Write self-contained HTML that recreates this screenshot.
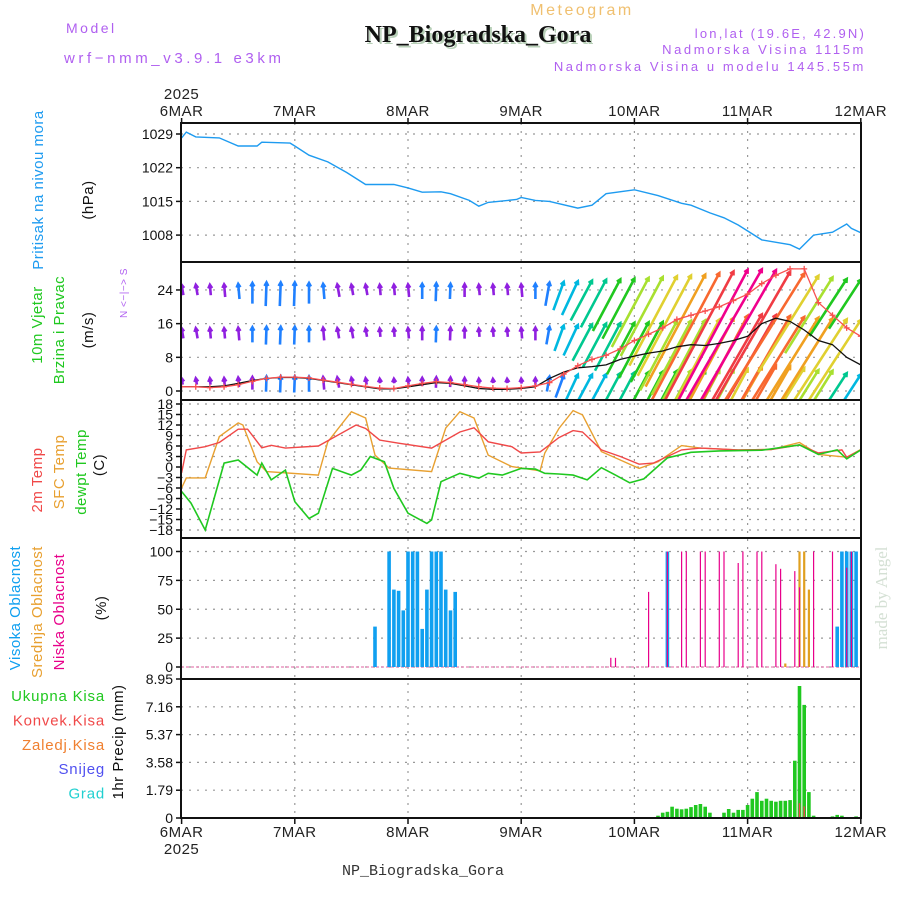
<!DOCTYPE html>
<html><head><meta charset="utf-8"><style>
html,body{margin:0;padding:0;background:#fff;}
svg{display:block;font-family:"Liberation Sans",sans-serif;}
.tk{font-size:14px;fill:#111;text-anchor:end;}
.ax{font-size:15px;fill:#222;text-anchor:middle;letter-spacing:0.5px;}
.gl{stroke:#999;stroke-width:1.2;stroke-dasharray:2,6;}
.lab{font-size:14px;letter-spacing:0.8px;}
</style></head><body>
<svg id="chart" width="900" height="900" viewBox="0 0 900 900" xmlns="http://www.w3.org/2000/svg">
<rect x="0" y="0" width="900" height="900" fill="#fff"/>
<text x="66" y="33" fill="#b060f0" style="font-size:14px;letter-spacing:2.5px">Model</text>
<text x="64" y="63" fill="#b060f0" style="font-size:15px;letter-spacing:3.6px">wrf−nmm_v3.9.1 e3km</text>
<text x="582" y="15" text-anchor="middle" fill="#f0c070" style="font-size:16px;letter-spacing:2.5px">Meteogram</text>
<text x="480" y="44" text-anchor="middle" fill="#b8d0b8" style="font-family:'Liberation Serif',serif;font-weight:bold;font-size:24px">NP_Biogradska_Gora</text>
<text x="478" y="42" text-anchor="middle" fill="#111" style="font-family:'Liberation Serif',serif;font-weight:bold;font-size:24px">NP_Biogradska_Gora</text>
<text x="866" y="38" text-anchor="end" fill="#b060f0" style="font-size:13px;letter-spacing:2.2px">lon,lat (19.6E, 42.9N)</text>
<text x="866" y="54" text-anchor="end" fill="#b060f0" style="font-size:13px;letter-spacing:2.6px">Nadmorska Visina 1115m</text>
<text x="866" y="71" text-anchor="end" fill="#b060f0" style="font-size:13px;letter-spacing:2.6px">Nadmorska Visina u modelu 1445.55m</text>
<text x="423" y="875" text-anchor="middle" fill="#333" style="font-family:'Liberation Mono',monospace;font-size:15px">NP_Biogradska_Gora</text>
<text transform="translate(887,598) rotate(-90)" text-anchor="middle" fill="#d4e0d4" style="font-family:'Liberation Serif',serif;font-size:17px">made by Angel</text>

<g id="labels"></g>
<g id="grid"></g>
<g id="marks"></g>
<g id="frames"></g>
</svg>
<script>
// ---- data ----
const dayLabels = ["6MAR","7MAR","8MAR","9MAR","10MAR","11MAR","12MAR"];
const presHours = [0,1,3,8,12,16,17,23,24,27,31,35,39,45,48,51,55,57,61,63,65,71,72,75,78,84,87,90,96,101,106,108,112,115,118,123,129,131,134,138,141,142,144];
const presVals  = [1028.2,1029.4,1028.4,1028.2,1026.5,1026.5,1027.3,1027.1,1026.5,1024.6,1023.2,1021,1018.5,1018.5,1017.8,1016.9,1017,1016.6,1015.2,1014,1014.8,1015.4,1015.8,1015.2,1015,1013.6,1014.2,1016.6,1017.4,1016.2,1014.6,1014.2,1012.6,1011.6,1010.1,1007,1006,1005.1,1008,1008.6,1010.3,1009.4,1008.5];
const presTicks = [1029,1022,1015,1008];

const windHours = [0,3,6,9,12,15,18,21,24,27,30,33,36,39,42,45,48,51,54,57,60,63,66,69,72,75,78,81,84,87,90,93,96,99,102,105,108,111,114,117,120,123,126,129,132,135,138,141,144];
const wind10 = [1,1,1,1.2,1.8,2.5,3,3.2,3.2,3,2.5,2,1.5,1,0.5,0.5,1,1.5,2,1.8,1.2,0.6,0.4,0.4,0.6,1,3,4.5,5.5,5.8,6.2,7.5,8.3,9,9.5,10.5,11,10.8,11.3,12,13,16,17.3,16.5,14.5,12,11,8,6.2];
const gust10 = [1,1,0.8,1,1.5,2.3,3,3.3,3.3,3.1,2.6,2.1,1.6,1.1,0.7,0.6,1.2,1.8,2.2,2,1.5,1,0.7,0.6,0.8,1.2,2,4,6,7.5,8.5,10,12,13.5,15,17,18,19,20,21.5,23,25.5,27.5,29,29,21,18,15,13];
const wind850 = [2,2,2,2,2.5,3,3.5,3.5,3.5,3,2.5,2,2,1.5,1.5,1.5,2,2.5,3,2.5,2,1.5,1.5,1.5,2,2.5,3.5,5,6,7,8,8.5,9,9.5,10,11,11.5,12,13,15,18,20,19,18,17,16,15,14,13];
const wind700 = [2,2,2,2.5,3,4,4.5,4.5,4.5,4,3,2.5,2,2,2,2,2.5,3,3.5,3,2.5,2,2,2,2.5,3,4.5,5.5,6.5,7.5,8.5,9,10,11,12,13,14,15,17,19,21,22,21,19,17,14,12,10,9];
const windDir = [100,100,95,95,95,90,88,88,88,90,95,100,100,100,95,95,95,90,88,88,90,95,95,95,95,90,80,70,65,62,62,62,62,62,62,62,62,62,62,62,62,60,60,60,58,58,58,57,57];
const windTicks = [24,16,8,0];

const t2Hours = [0,1,5,8,12,14,17,19,22,29,31,37,39,42,46,53,59,62,65,70,72,76,77,80,83,85,89,93,97,100,106,110,118,125,131,135,140,141,144];
const t2Vals  = [-1.7,4.9,5.8,7,10.8,10.8,5.5,6.2,5.4,6,7.5,12,11,7.7,6.8,5.4,10,11.2,7.2,5.8,4,4.3,5.3,8.4,10.4,10,4.9,3,0.8,1.1,4.9,5.4,4.9,5,6.3,4,4.9,2.8,4.9];
const tsHours = [0,1,5,8,12,13,16,18,29,31,36,39,41,44,53,56,59,62,65,70,76,77,80,83,85,89,97,101,106,110,118,125,131,135,141,144];
const tsVals  = [-6,-3.1,-3.1,8.7,12.6,12,1.5,-1.3,-2.3,7.2,15.8,14,3.4,-0.3,-1.3,11.1,15.8,14,3.4,0.1,-1.1,4,11,16.1,14.9,4.4,-0.4,1.5,6.1,5.4,4.9,5,7,3.6,2.8,5];
const tdHours = [0,2,5,9,12,16,17,19,22,24,27,29,32,36,38,40,43,45,48,52,53,55,59,63,65,68,72,75,77,80,83,86,89,92,95,98,103,108,114,123,131,135,139,141,144];
const tdVals  = [-7,-10.3,-18,1.1,2,-2.3,1.1,-3.7,-0.9,-9.9,-14.7,-13.2,-0.4,-2.3,-0.9,3,1.5,-6.1,-13.2,-16.1,-15.1,-4.2,-1.8,-3.2,-1.8,-2.3,-0.4,-0.6,-1.8,-2,-2.3,-3.7,-0.2,-2.3,-4.5,-3.4,2.6,4.2,4.6,4.8,6.3,3.6,4.9,2.3,4.9];
const tempTicks = [18,15,12,9,6,3,0,-3,-6,-9,-12,-15,-18];

const highHours = [41,44,45,46,47,48,49,50,51,52,53,54,55,56,57,58,103,139,140,141,142,143];
const highVals  = [35,100,67,66,49,100,100,100,33,67,100,100,100,67,49,65,100,35,100,100,100,100];
const midHours = [128,131,132,133];
const midVals  = [3,100,100,67];
const lowHours = [91,92,99,103,106,107,110,111,114,115,118,119,122,123,126,127,130,131,134,138,141,142];
const lowVals  = [8,8,65,100,100,100,100,100,100,100,90,100,100,100,89,85,83,69,100,100,86,100];
const cloudTicks = [100,75,50,25,0];

const precipHours = [101,102,103,104,105,106,107,108,109,110,111,112,115,116,117,118,119,120,121,122,123,124,125,126,127,128,129,130,131,132,133,134,138,139,140,143];
const precipVals  = [0.15,0.34,0.4,0.73,0.6,0.56,0.6,0.7,0.84,0.9,0.73,0.34,0.34,0.58,0.34,0.52,0.52,0.84,1.24,1.67,1.11,1.24,1.11,1.05,1.11,1.11,1.15,3.69,8.5,7.28,1.67,0.15,0.1,0.2,0.15,0.1];
const convHours = [131,132];
const convVals  = [0.95,0.75];
const precipTicks = ["8.95","7.16","5.37","3.58","1.79","0"];

// ---- scales ----
const X = h => 181.6 + h*4.7167;
const Yp = p => 134 + (1029-p)*4.814;
const Yw = v => 391 - v*4.21;
const Yt = t => 467 - t*3.5;
const Yc = c => 667 - c*1.155;
const Yr = r => 818 - r*15.53;
const L = 181, R = 861;
const NS = "http://www.w3.org/2000/svg";
const mk = (tag, attrs, parent, txt) => { const e = document.createElementNS(NS, tag); for (const k in attrs) e.setAttribute(k, attrs[k]); if (txt !== undefined) e.textContent = txt; parent.appendChild(e); return e; };
const gGrid = document.getElementById('grid'), gMarks = document.getElementById('marks'), gFr = document.getElementById('frames'), gLab = document.getElementById('labels');

const panels = [[123,262],[262,400],[400,538],[538,679],[679,818]];

const defs = mk('defs', {}, document.getElementById('chart'));
panels.forEach((p,i)=>{ const c = mk('clipPath',{id:'clip'+i},defs); mk('rect',{x:L,y:p[0],width:R-L,height:p[1]-p[0]},c); });

dayLabels.forEach((d,i)=>{
  const x = X(i*24);
  if (i>0 && i<6) { const l = mk('line',{x1:x,y1:123,x2:x,y2:818,class:'gl'},gGrid);
      }
  const t1 = mk('text',{x:x,y:116,class:'ax'},gLab,d);
   
  const t2 = mk('text',{x:x,y:837,class:'ax'},gLab,d);
   
  mk('line',{x1:x,y1:118,x2:x,y2:124,stroke:'#111','stroke-width':1.5},gFr);
  mk('line',{x1:x,y1:818,x2:x,y2:824,stroke:'#111','stroke-width':1.5},gFr);
});
let yt = mk('text',{x:X(0),y:99,class:'ax'},gLab,'2025');  
yt = mk('text',{x:X(0),y:854,class:'ax'},gLab,'2025');  

function ticks(vals, yf, name, fs, labels){
  vals.forEach((v,i)=>{
    const y = yf(v);
    const g = mk('line',{x1:L,y1:y,x2:R,y2:y,class:'gl'},gGrid);
     
    mk('line',{x1:L-5,y1:y,x2:L,y2:y,stroke:'#111','stroke-width':1.5},gFr);
    const t = mk('text',{x:L-8,y:y+5,class:'tk','font-size':fs},gLab, labels ? labels[i] : v);
     
  });
}
ticks(presTicks, Yp, 'pressure', 14);
ticks(windTicks, Yw, 'wind', 14);
ticks(tempTicks, Yt, 'temp', 13, tempTicks.map(v=>v<0?'−'+(-v):String(v)));
ticks(cloudTicks, Yc, 'cloud', 14);
ticks(precipTicks.map(Number), Yr, 'precip', 14, precipTicks);

function line(hs, vs, yf, color, clip, name, w){
  const d = hs.map((h,i)=>(i?'L':'M')+X(h).toFixed(1)+','+yf(vs[i]).toFixed(1)).join('');
  const p = mk('path',{d:d,fill:'none',stroke:color,'stroke-width':w||1.3,'clip-path':'url(#clip'+clip+')'},gMarks);
   
  return p;
}
line(presHours, presVals, Yp, '#1e9bf0', 0, 'pressure-line', 1.4);

// wind arrows
function wcol(s){
  const c=[[3,'#9020e0'],[5,'#2080ff'],[7,'#00b8e0'],[9,'#00c890'],[11,'#20c820'],[13,'#a8e030'],[15,'#e0d030'],[17,'#f0a020'],[19,'#f86830'],[21,'#f03c44']];
  for (const [t,col] of c) if (s<t) return col; return '#f0008c';
}
const rows = [[wind10, 2.8],[wind850, 14.5],[wind700, 24.8]];
const gW = mk('g',{'clip-path':'url(#clip1)'},gMarks);
rows.forEach((row,ri)=>{
  row[0].forEach((s,i)=>{
    const a = windDir[i]*Math.PI/180, len = 3 + s*3 + s*s*0.35;
    const tx = X(windHours[i]), ty = Yw(row[1]) - Math.sin(a)*s*0.9;
    const bx = tx - len*Math.cos(a), by = ty + len*Math.sin(a);
    const col = wcol(s);
    const ar = mk('path',{d:`M${bx.toFixed(1)},${by.toFixed(1)}L${tx.toFixed(1)},${ty.toFixed(1)}M${(tx-4*Math.cos(a-0.5)).toFixed(1)},${(ty+4*Math.sin(a-0.5)).toFixed(1)}L${tx.toFixed(1)},${ty.toFixed(1)}L${(tx-4*Math.cos(a+0.5)).toFixed(1)},${(ty+4*Math.sin(a+0.5)).toFixed(1)}`,stroke:col,'stroke-width':2.6,fill:'none'},gW);
     
  });
});
line(windHours, wind10, Yw, '#111', 1, 'wind-speed-line', 1.3);
line(windHours, gust10, Yw, '#f85050', 1, 'wind-gust-line', 1.3);
windHours.forEach((h,i)=>{
  const x=X(h), y=Yw(gust10[i]);
  const p = mk('path',{d:`M${x-3},${y}h6M${x},${y-3}v6`,stroke:'#f85050','stroke-width':1.3,'clip-path':'url(#clip1)'},gMarks);
   
});

line(tsHours, tsVals, Yt, '#e8a030', 2, 'sfc-temp-line', 1.4);
line(t2Hours, t2Vals, Yt, '#f04848', 2, 'temp-2m-line', 1.4);
line(tdHours, tdVals, Yt, '#20c820', 2, 'dewpoint-line', 1.6);

mk('line',{x1:L,y1:Yc(0),x2:R,y2:Yc(0),stroke:'#e060a0','stroke-width':1,'stroke-dasharray':'3,2'},gMarks);
function bars(hs, vs, yf, color, w, name, clip){
  hs.forEach((h,i)=>{
    const y = yf(vs[i]), y0 = yf(0);
    const b = mk('rect',{x:(X(h)-w/2).toFixed(1),y:y.toFixed(1),width:w,height:Math.max(0,y0-y).toFixed(1),fill:color,'clip-path':'url(#clip'+clip+')'},gMarks);
     
  });
}
bars(highHours, highVals, Yc, '#10a0f0', 3.6, 'high-cloud-bar', 3);
bars(midHours, midVals, Yc, '#e0a020', 2.2, 'mid-cloud-bar', 3);
bars(lowHours, lowVals, Yc, '#e8008a', 1.2, 'low-cloud-bar', 3);

bars(precipHours, precipVals, Yr, '#20c820', 3.6, 'precip-bar', 4);
bars(convHours, convVals, Yr, '#f04848', 1.4, 'convective-precip-bar', 4);

panels.forEach((p,i)=>{
  const r = mk('rect',{x:L,y:p[0],width:R-L,height:p[1]-p[0],fill:'none',stroke:'#111','stroke-width':2},gFr);
   
});

function vlab(txt,x,y,col,name,fs){
  const t = mk('text',{transform:`translate(${x},${y}) rotate(-90)`,'text-anchor':'middle',fill:col,'font-size':fs||15,'letter-spacing':'0.5'},gLab,txt);
   
}
vlab('Pritisak na nivou mora',43,190,'#1e9bf0','pressure-title');
vlab('(hPa)',93,200,'#111','pressure-unit');
vlab('10m Vjetar',42,325,'#20c820','wind-title-1');
vlab('Brzina i Pravac',64,330,'#20c820','wind-title-2');
vlab('(m/s)',93,330,'#111','wind-unit');
vlab('N <−|−> S',127,293,'#b060f0','wind-compass',10);
vlab('2m Temp',42,480,'#f04848','temp-2m-title');
vlab('SFC Temp',64,472,'#e8a030','sfc-temp-title');
vlab('dewpt Temp',86,472,'#20c820','dewpoint-title');
vlab('(C)',104,465,'#111','temp-unit');
vlab('Visoka Oblacnost',20,608,'#10a0f0','high-cloud-title');
vlab('Srednja Oblacnost',42,612,'#e8a030','mid-cloud-title');
vlab('Niska Oblacnost',64,612,'#e8008a','low-cloud-title');
vlab('(%)',106,608,'#111','cloud-unit');
vlab('1hr Precip (mm)',123,742,'#111','precip-title');
const leg = [['Ukupna  Kisa','#20c820'],['Konvek.Kisa','#f04848'],['Zaledj.Kisa','#f08030'],['Snijeg','#5050f0'],['Grad','#20d0d0']];
leg.forEach((l,i)=>{
  const t = mk('text',{x:105,y:701+i*24.4,'text-anchor':'end',fill:l[1],'font-size':15,'letter-spacing':'0.8'},gLab,l[0]);
   
});
</script>
</body></html>
